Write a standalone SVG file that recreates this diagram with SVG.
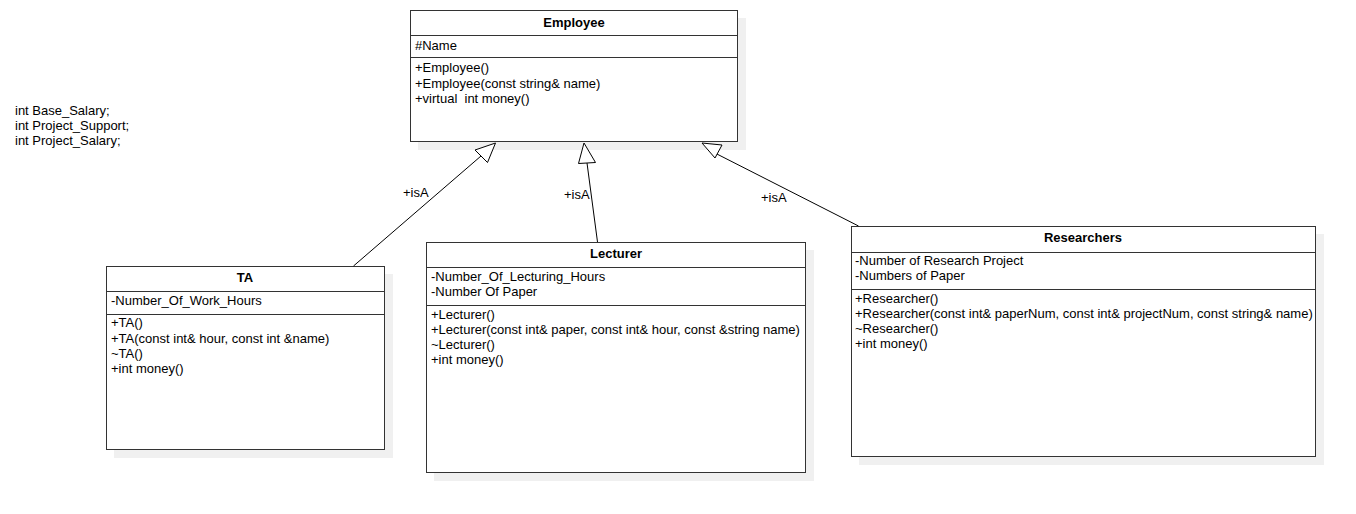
<svg xmlns="http://www.w3.org/2000/svg" width="1356" height="514" viewBox="0 0 1356 514">
<style>
text{font-family:"Liberation Sans",Arial,sans-serif;font-size:13px;fill:#000;white-space:pre}
.t{font-weight:bold;text-anchor:middle}
.box{fill:#fff;stroke:#333;stroke-width:1}
.sh{fill:#f0f0f0}
.sep{stroke:#333;stroke-width:1}
.conn{stroke:#000;stroke-width:1;fill:none}
.head{fill:#fff;stroke:#000;stroke-width:1}
</style>
<rect width="1356" height="514" fill="#fff"/>
<g id="note">
<text x="15" y="115">int Base_Salary;</text>
<text x="15" y="130">int Project_Support;</text>
<text x="15" y="145">int Project_Salary;</text>
</g>
<g id="employee">
<rect class="sh" x="418" y="18" width="328" height="132"/>
<rect class="box" x="410.5" y="10.5" width="327" height="131"/>
<line class="sep" x1="410.5" y1="35.5" x2="737.5" y2="35.5"/>
<line class="sep" x1="410.5" y1="57.5" x2="737.5" y2="57.5"/>
<text class="t" x="574" y="27">Employee</text>
<text x="415" y="50">#Name</text>
<text x="415" y="72">+Employee()</text>
<text x="415" y="88">+Employee(const string&amp; name)</text>
<text x="415" y="103" xml:space="preserve">+virtual  int money()</text>
</g>
<g id="ta">
<rect class="sh" x="114" y="274" width="279" height="184"/>
<rect class="box" x="106.5" y="266.5" width="278" height="183"/>
<line class="sep" x1="106.5" y1="291.5" x2="384.5" y2="291.5"/>
<line class="sep" x1="106.5" y1="314.5" x2="384.5" y2="314.5"/>
<text class="t" x="245" y="282">TA</text>
<text x="111" y="305">-Number_Of_Work_Hours</text>
<text x="111" y="327">+TA()</text>
<text x="111" y="343">+TA(const int&amp; hour, const int &amp;name)</text>
<text x="111" y="358">~TA()</text>
<text x="111" y="373">+int money()</text>
</g>
<g id="lecturer">
<rect class="sh" x="434" y="250" width="380" height="231"/>
<rect class="box" x="426.5" y="242.5" width="379" height="230"/>
<line class="sep" x1="426.5" y1="267.5" x2="805.5" y2="267.5"/>
<line class="sep" x1="426.5" y1="305.5" x2="805.5" y2="305.5"/>
<text class="t" x="616" y="258">Lecturer</text>
<text x="431" y="281">-Number_Of_Lecturing_Hours</text>
<text x="431" y="296">-Number Of Paper</text>
<text x="431" y="319">+Lecturer()</text>
<text x="431" y="334">+Lecturer(const int&amp; paper, const int&amp; hour, const &amp;string name)</text>
<text x="431" y="349">~Lecturer()</text>
<text x="431" y="364">+int money()</text>
</g>
<g id="researchers">
<rect class="sh" x="859" y="234" width="465" height="231"/>
<rect class="box" x="851.5" y="226.5" width="464" height="230"/>
<line class="sep" x1="851.5" y1="252.5" x2="1315.5" y2="252.5"/>
<line class="sep" x1="851.5" y1="289.5" x2="1315.5" y2="289.5"/>
<text class="t" x="1083" y="242">Researchers</text>
<text x="855" y="265">-Number of Research Project</text>
<text x="855" y="280">-Numbers of Paper</text>
<text x="855" y="303">+Researcher()</text>
<text x="855" y="318">+Researcher(const int&amp; paperNum, const int&amp; projectNum, const string&amp; name)</text>
<text x="855" y="333">~Researcher()</text>
<text x="855" y="348">+int money()</text>
</g>
<g id="connectors">
<line class="conn" x1="353.5" y1="266" x2="481" y2="156"/>
<polygon class="head" points="495.5,143 475,150 487.5,162.5"/>
<line class="conn" x1="597.5" y1="242" x2="587" y2="163"/>
<polygon class="head" points="584,143 578.5,163.5 595.5,162.5"/>
<line class="conn" x1="858.5" y1="226" x2="711" y2="151"/>
<polygon class="head" points="702,143 722,145 715,158"/>
<text x="403" y="197">+isA</text>
<text x="564" y="199">+isA</text>
<text x="761" y="202">+isA</text>
</g>
</svg>
